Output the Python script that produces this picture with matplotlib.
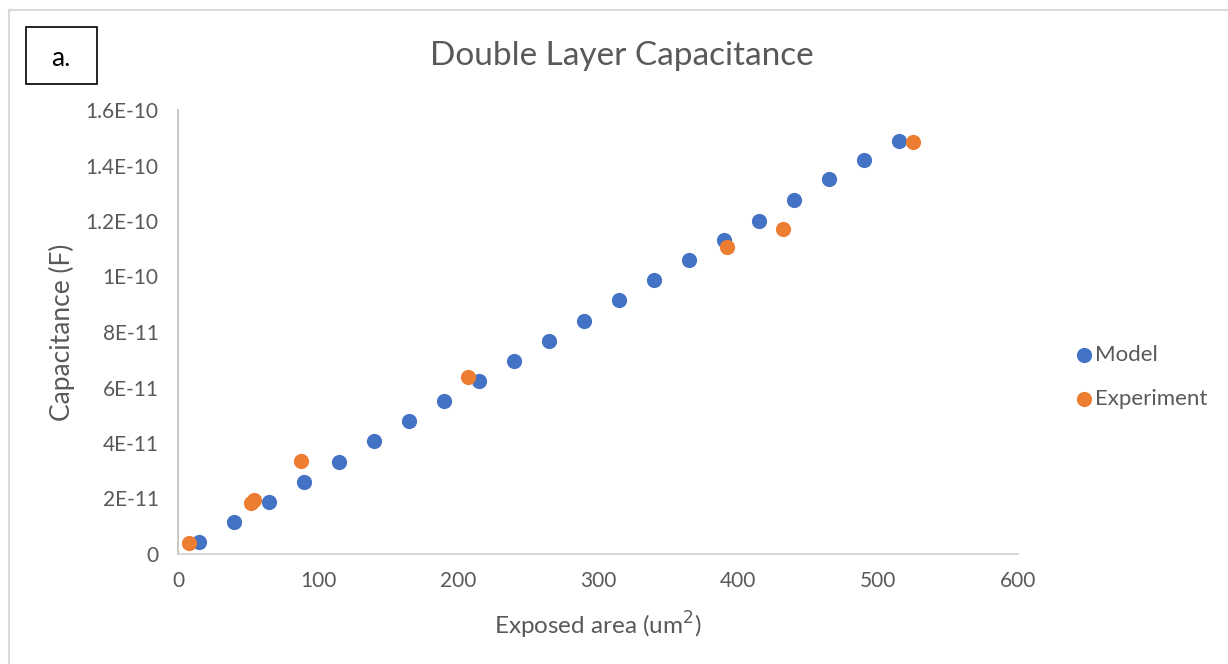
import matplotlib.pyplot as plt
from matplotlib.ticker import FuncFormatter
from matplotlib.patches import Rectangle
from matplotlib.lines import Line2D

# data
model_area = [15, 40, 65, 90, 115, 140, 165, 190, 215, 240, 265,
              290, 315, 340, 365, 390, 415, 440, 465, 490, 515]
model_cap = [0.43e-11, 1.15e-11, 1.87e-11, 2.59e-11, 3.32e-11, 4.07e-11,
             4.79e-11, 5.51e-11, 6.23e-11, 6.95e-11, 7.68e-11, 8.40e-11,
             9.15e-11, 9.87e-11, 10.6e-11, 11.3e-11, 12.0e-11, 12.75e-11,
             13.5e-11, 14.2e-11, 14.9e-11]

exp_area = [8, 52, 54, 88, 207, 392, 432, 525]
exp_cap = [0.40e-11, 1.84e-11, 1.95e-11, 3.35e-11, 6.38e-11,
           11.06e-11, 11.7e-11, 14.85e-11]

ytick_vals = [0, 2e-11, 4e-11, 6e-11, 8e-11, 1e-10, 1.2e-10, 1.4e-10, 1.6e-10]
xtick_vals = [0, 100, 200, 300, 400, 500, 600]

plt.rcParams['font.family'] = ['Lato', 'DejaVu Sans']
grey = '#595959'

W, H = 1228, 664
fig = plt.figure(figsize=(W / 100, H / 100), dpi=100)
ax = fig.add_axes([178 / W, 1 - 554 / H, (1018 - 178) / W, (554 - 110) / H])

ax.scatter(model_area, model_cap, s=120, color='#4472C4', label='Model',
           linewidths=0, zorder=3)
ax.scatter(exp_area, exp_cap, s=120, color='#ED7D31', label='Experiment',
           linewidths=0, zorder=4)

ax.set_xlim(0, 600)
ax.set_ylim(0, 1.6e-10)
ax.set_xticks(xtick_vals)
ax.set_yticks(ytick_vals)


def sci(v, pos):
    if v == 0:
        return '0'
    s = '%.1E' % v
    mant, ex = s.split('E')
    mant = mant.rstrip('0').rstrip('.')
    return '%sE-%d' % (mant, abs(int(ex)))


ax.yaxis.set_major_formatter(FuncFormatter(sci))
ax.tick_params(length=0, labelsize=15, labelcolor=grey)
ax.tick_params(axis='y', pad=14)
ax.tick_params(axis='x', pad=12)

for side in ['top', 'right']:
    ax.spines[side].set_visible(False)
ax.spines['left'].set_color('#bfbfbf')
ax.spines['bottom'].set_color('#d0d0d0')
ax.spines['left'].set_linewidth(1.2)
ax.spines['bottom'].set_linewidth(1.2)

ax.set_xlabel('Exposed area (um$^2$)', fontsize=17.5, color=grey, va='center')
ax.set_ylabel('Capacitance (F)', fontsize=19, color=grey, va='center')
ax.xaxis.set_label_coords(0.5, -(625 - 554) / 444)
ax.yaxis.set_label_coords(-(178 - 62) / 840, 0.5)

fig.text(622 / W, 1 - 56 / H, 'Double Layer Capacitance', fontsize=24,
         color=grey, ha='center', va='center')

# "a." label box
fig.patches.append(Rectangle((26 / W, 1 - 84 / H), 71 / W, 57 / H,
                             transform=fig.transFigure, fill=False,
                             edgecolor='black', linewidth=1.2))
fig.text(61 / W, 1 - 58 / H, 'a.', fontsize=19, color='black',
         ha='center', va='center')

# outer frame (left and top only visible)
fig.add_artist(Line2D([9 / W, 9 / W], [0, 1 - 10 / H], transform=fig.transFigure,
                      color='#d9d9d9', linewidth=1.5))
fig.add_artist(Line2D([9 / W, 1], [1 - 10 / H, 1 - 10 / H], transform=fig.transFigure,
                      color='#d9d9d9', linewidth=1.5))

leg = ax.legend(loc='center left', bbox_to_anchor=(1062 / W, 1 - 377 / H),
                bbox_transform=fig.transFigure, frameon=False, fontsize=16,
                handletextpad=0.0, labelspacing=1.05, markerscale=1.0,
                borderpad=0, handlelength=1.0)
for t in leg.get_texts():
    t.set_color(grey)

fig.savefig('out.png', dpi=100)
